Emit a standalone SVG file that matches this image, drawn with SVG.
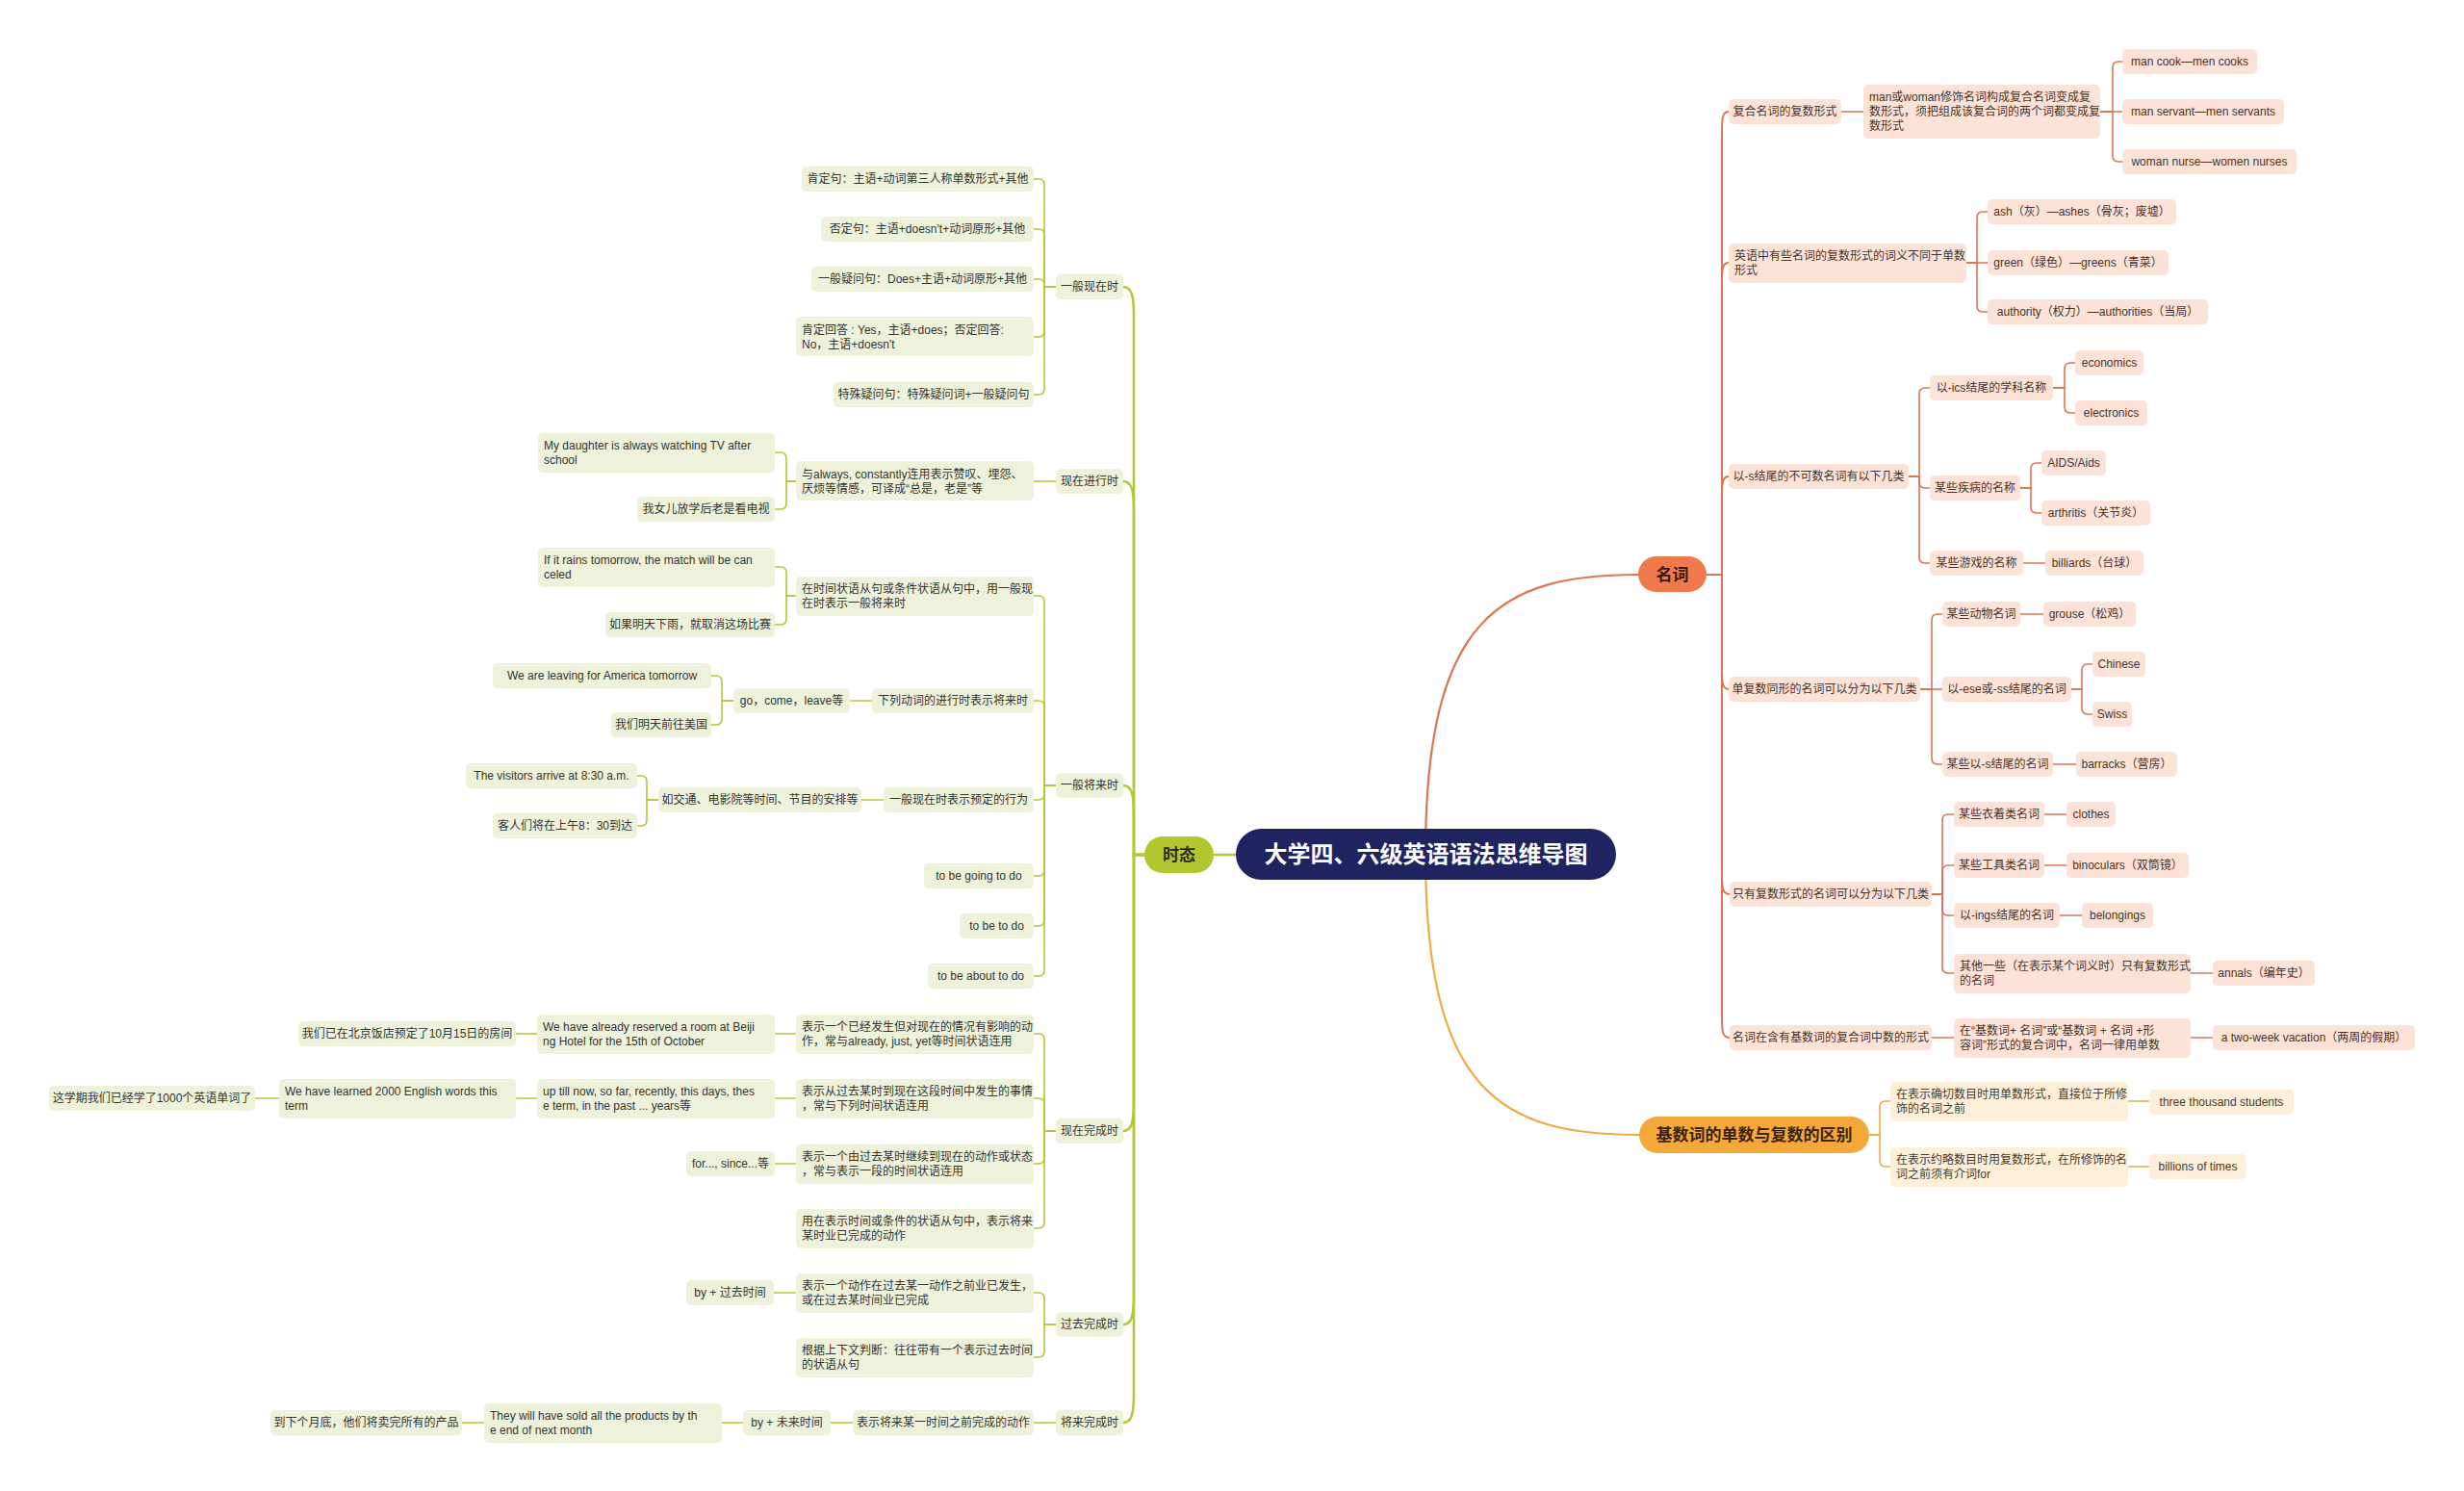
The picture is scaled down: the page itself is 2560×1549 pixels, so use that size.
<svg xmlns="http://www.w3.org/2000/svg" width="2560" height="1549" viewBox="0 0 2560 1549">
<style>
text{font-family:"Liberation Sans","Noto Sans CJK SC",sans-serif;font-size:12px;fill:#333}
.m{text-anchor:middle}
.g rect{fill:#eef2da}
.o rect{fill:#fde3d7}
.y rect{fill:#fdefd9}
.o text{fill:#4a3228}
.y text{fill:#4a3a28}
path{fill:none;stroke-linecap:round}
.cg path{stroke:#b4c63a;stroke-width:1.6}
.co path{stroke:#dc7552;stroke-width:1.6}
.cy path{stroke:#f0a848;stroke-width:1.6}
.big{font-size:17px;font-weight:bold;fill:#2a2a1a}
</style>
<rect width="2560" height="1549" fill="#ffffff"/>
<g id="connectors">
<g class="cg">
<path d="M1261 888 H1284" style="stroke-width:2.5"/>
<path d="M1189 888 H1178 V328 C1178 308 1176 298 1167 298" style="stroke-width:2.5"/>
<path d="M1189 888 H1178 V530 C1178 510 1176 500 1167 500" style="stroke-width:2.5"/>
<path d="M1189 888 H1178 V846 C1178 826 1176 816 1167 816" style="stroke-width:2.5"/>
<path d="M1189 888 H1178 V1145 C1178 1165 1176 1175 1167 1175" style="stroke-width:2.5"/>
<path d="M1189 888 H1178 V1346 C1178 1366 1176 1376 1167 1376" style="stroke-width:2.5"/>
<path d="M1189 888 H1178 V1448 C1178 1468 1176 1478 1167 1478" style="stroke-width:2.5"/>
<path d="M1097 298 H1085 V192 Q1085 186 1079 186 H1074"/>
<path d="M1097 298 H1085 V244 Q1085 238 1079 238 H1074"/>
<path d="M1097 298 H1085 V296 Q1085 290 1079 290 H1074"/>
<path d="M1097 298 H1085 V344 Q1085 350 1079 350 H1074"/>
<path d="M1097 298 H1085 V404 Q1085 410 1079 410 H1074"/>
<path d="M1097 500 H1074"/>
<path d="M827 500 H817 V476 Q817 470 811 470 H805"/>
<path d="M827 500 H817 V523 Q817 529 811 529 H805"/>
<path d="M1097 816 H1085 V625 Q1085 619 1079 619 H1074"/>
<path d="M1097 816 H1085 V734 Q1085 728 1079 728 H1074"/>
<path d="M1097 816 H1085 V825 Q1085 831 1079 831 H1074"/>
<path d="M1097 816 H1085 V904 Q1085 910 1079 910 H1074"/>
<path d="M1097 816 H1085 V956 Q1085 962 1079 962 H1074"/>
<path d="M1097 816 H1085 V1008 Q1085 1014 1079 1014 H1074"/>
<path d="M827 619 H817 V595 Q817 589 811 589 H805"/>
<path d="M827 619 H817 V643 Q817 649 811 649 H805"/>
<path d="M906 728 H883"/>
<path d="M762 728 H750 V708 Q750 702 744 702 H739"/>
<path d="M762 728 H750 V747 Q750 753 744 753 H739"/>
<path d="M918 831 H895"/>
<path d="M684 831 H672 V812 Q672 806 666 806 H662"/>
<path d="M684 831 H672 V852 Q672 858 666 858 H662"/>
<path d="M1097 1175 H1085 V1080 Q1085 1074 1079 1074 H1074"/>
<path d="M1097 1175 H1085 V1147 Q1085 1141 1079 1141 H1074"/>
<path d="M1097 1175 H1085 V1203 Q1085 1209 1079 1209 H1074"/>
<path d="M1097 1175 H1085 V1270 Q1085 1276 1079 1276 H1074"/>
<path d="M827 1074 H805"/>
<path d="M558 1074 H536"/>
<path d="M827 1141 H805"/>
<path d="M558 1141 H536"/>
<path d="M290 1141 H265"/>
<path d="M827 1209 H805"/>
<path d="M1097 1376 H1085 V1349 Q1085 1343 1079 1343 H1074"/>
<path d="M1097 1376 H1085 V1404 Q1085 1410 1079 1410 H1074"/>
<path d="M827 1343 H804"/>
<path d="M1097 1478 H1074"/>
<path d="M886 1478 H863"/>
<path d="M772 1478 H750"/>
<path d="M503 1478 H480"/>
</g>
<g class="co">
<path d="M1481 887 C1481 640 1560 597 1702 597" style="stroke-width:2.2"/>
<path d="M1773 597 H1789 V136 C1789 122 1790 116 1796 116" style="stroke-width:2"/>
<path d="M1773 597 H1789 V293 C1789 279 1790 273 1796 273" style="stroke-width:2"/>
<path d="M1773 597 H1789 V515 C1789 501 1790 495 1796 495" style="stroke-width:2"/>
<path d="M1773 597 H1789 V696 C1789 710 1790 716 1796 716" style="stroke-width:2"/>
<path d="M1773 597 H1789 V909 C1789 923 1790 929 1797 929" style="stroke-width:2"/>
<path d="M1773 597 H1789 V1058 C1789 1072 1790 1078 1797 1078" style="stroke-width:2"/>
<path d="M1913 116 H1936"/>
<path d="M2182 116 H2195 V70 Q2195 64 2201 64 H2205"/>
<path d="M2182 116 H2205"/>
<path d="M2182 116 H2195 V162 Q2195 168 2201 168 H2205"/>
<path d="M2043 273 H2054 V226 Q2054 220 2060 220 H2065"/>
<path d="M2043 273 H2065"/>
<path d="M2043 273 H2054 V318 Q2054 324 2060 324 H2065"/>
<path d="M1983 495 H1994 V409 Q1994 403 2000 403 H2005"/>
<path d="M1983 495 H1994 V501 Q1994 507 2000 507 H2005"/>
<path d="M1983 495 H1994 V579 Q1994 585 2000 585 H2005"/>
<path d="M2133 403 H2145 V383 Q2145 377 2151 377 H2156"/>
<path d="M2133 403 H2145 V423 Q2145 429 2151 429 H2156"/>
<path d="M2099 507 H2110 V487 Q2110 481 2116 481 H2121"/>
<path d="M2099 507 H2110 V527 Q2110 533 2116 533 H2121"/>
<path d="M2102 585 H2125"/>
<path d="M1995 716 H2007 V644 Q2007 638 2013 638 H2018"/>
<path d="M1995 716 H2018"/>
<path d="M1995 716 H2007 V788 Q2007 794 2013 794 H2018"/>
<path d="M2099 638 H2123"/>
<path d="M2152 716 H2163 V696 Q2163 690 2169 690 H2174"/>
<path d="M2152 716 H2163 V736 Q2163 742 2169 742 H2174"/>
<path d="M2133 794 H2157"/>
<path d="M2007 929 H2018 V852 Q2018 846 2024 846 H2030"/>
<path d="M2007 929 H2018 V905 Q2018 899 2024 899 H2030"/>
<path d="M2007 929 H2018 V945 Q2018 951 2024 951 H2030"/>
<path d="M2007 929 H2018 V1005 Q2018 1011 2024 1011 H2030"/>
<path d="M2124 846 H2147"/>
<path d="M2124 899 H2147"/>
<path d="M2140 951 H2163"/>
<path d="M2276 1011 H2299"/>
<path d="M2007 1078 H2030"/>
<path d="M2276 1078 H2299"/>
</g>
<g class="cy">
<path d="M1481 887 C1481 1135 1560 1179 1703 1179" style="stroke-width:2.2"/>
<path d="M1942 1179 H1953 V1150 Q1953 1144 1959 1144 H1964"/>
<path d="M1942 1179 H1953 V1206 Q1953 1212 1959 1212 H1964"/>
<path d="M2211 1144 H2233"/>
<path d="M2211 1212 H2233"/>
</g>
</g>

<g id="root"><rect x="1284" y="861" width="395" height="53" rx="26.5" fill="#1f2461"/><text x="1481.5" y="896" class="m" style="font-size:24px;font-weight:bold;fill:#ffffff">大学四、六级英语语法思维导图</text></g>

<g id="shitai"><rect x="1189" y="869" width="72" height="38" rx="19" fill="#b4c62e"/><text x="1225" y="894" class="m big">时态</text></g>
<g id="mingci"><rect x="1702" y="578" width="71" height="37" rx="18.5" fill="#f07a4c"/><text x="1737.5" y="603" class="m big" style="fill:#3a1a10">名词</text></g>
<g id="jishuci"><rect x="1703" y="1160" width="239" height="38" rx="19" fill="#f5a83a"/><text x="1822.5" y="1185" class="m big" style="fill:#3a2410">基数词的单数与复数的区别</text></g>

<g class="g">
<g id="g1"><rect x="1097" y="285" width="70" height="26" rx="5"/><text x="1132" y="302" class="m">一般现在时</text></g>
<g id="g2"><rect x="1097" y="487" width="70" height="26" rx="5"/><text x="1132" y="504" class="m">现在进行时</text></g>
<g id="g3"><rect x="1097" y="803" width="70" height="26" rx="5"/><text x="1132" y="820" class="m">一般将来时</text></g>
<g id="g4"><rect x="1097" y="1162" width="70" height="26" rx="5"/><text x="1132" y="1179" class="m">现在完成时</text></g>
<g id="g5"><rect x="1097" y="1363" width="70" height="26" rx="5"/><text x="1132" y="1380" class="m">过去完成时</text></g>
<g id="g6"><rect x="1097" y="1465" width="70" height="26" rx="5"/><text x="1132" y="1482" class="m">将来完成时</text></g>

<g id="g1a"><rect x="833" y="173" width="241" height="26" rx="5"/><text x="953.5" y="190" class="m">肯定句：主语+动词第三人称单数形式+其他</text></g>
<g id="g1b"><rect x="853" y="225" width="221" height="26" rx="5"/><text x="963.5" y="242" class="m">否定句：主语+doesn't+动词原形+其他</text></g>
<g id="g1c"><rect x="843" y="277" width="231" height="26" rx="5"/><text x="958.5" y="294" class="m">一般疑问句：Does+主语+动词原形+其他</text></g>
<g id="g1d"><rect x="827" y="329" width="247" height="41" rx="5"/><text x="833" y="346.5">肯定回答 : Yes，主语+does；否定回答:</text><text x="833" y="361.5">No，主语+doesn't</text></g>
<g id="g1e"><rect x="866" y="397" width="208" height="26" rx="5"/><text x="970" y="414" class="m">特殊疑问句：特殊疑问词+一般疑问句</text></g>

<g id="g2a"><rect x="827" y="479" width="247" height="41" rx="5"/><text x="833" y="496.5">与always, constantly连用表示赞叹、埋怨、</text><text x="833" y="511.5">厌烦等情感，可译成“总是，老是”等</text></g>
<g id="g2a1"><rect x="559" y="450" width="246" height="41" rx="5"/><text x="565" y="466.5">My daughter is always watching TV after</text><text x="565" y="481.5">school</text></g>
<g id="g2a2"><rect x="662" y="516" width="143" height="26" rx="5"/><text x="733.5" y="533" class="m">我女儿放学后老是看电视</text></g>

<g id="g3a"><rect x="827" y="599" width="247" height="41" rx="5"/><text x="833" y="615.5">在时间状语从句或条件状语从句中，用一般现</text><text x="833" y="630.5">在时表示一般将来时</text></g>
<g id="g3a1"><rect x="559" y="569" width="246" height="41" rx="5"/><text x="565" y="585.5">If it rains tomorrow, the match will be can</text><text x="565" y="600.5">celed</text></g>
<g id="g3a2"><rect x="629" y="636" width="176" height="26" rx="5"/><text x="717" y="653" class="m">如果明天下雨，就取消这场比赛</text></g>
<g id="g3b"><rect x="906" y="715" width="168" height="26" rx="5"/><text x="990" y="732" class="m">下列动词的进行时表示将来时</text></g>
<g id="g3b1"><rect x="762" y="715" width="121" height="26" rx="5"/><text x="822.5" y="732" class="m">go，come，leave等</text></g>
<g id="g3b1a"><rect x="512" y="689" width="227" height="26" rx="5"/><text x="625.5" y="706" class="m">We are leaving for America tomorrow</text></g>
<g id="g3b1b"><rect x="635" y="740" width="104" height="26" rx="5"/><text x="687" y="757" class="m">我们明天前往美国</text></g>
<g id="g3c"><rect x="918" y="818" width="156" height="26" rx="5"/><text x="996" y="835" class="m">一般现在时表示预定的行为</text></g>
<g id="g3c1"><rect x="684" y="818" width="211" height="26" rx="5"/><text x="789.5" y="835" class="m">如交通、电影院等时间、节目的安排等</text></g>
<g id="g3c1a"><rect x="484" y="793" width="178" height="26" rx="5"/><text x="573" y="810" class="m">The visitors arrive at 8:30 a.m.</text></g>
<g id="g3c1b"><rect x="512" y="845" width="150" height="26" rx="5"/><text x="587" y="862" class="m">客人们将在上午8：30到达</text></g>
<g id="g3d"><rect x="960" y="897" width="114" height="26" rx="5"/><text x="1017" y="914" class="m">to be going to do</text></g>
<g id="g3e"><rect x="997" y="949" width="77" height="26" rx="5"/><text x="1035.5" y="966" class="m">to be to do</text></g>
<g id="g3f"><rect x="964" y="1001" width="110" height="26" rx="5"/><text x="1019" y="1018" class="m">to be about to do</text></g>

<g id="g4a"><rect x="827" y="1054" width="247" height="41" rx="5"/><text x="833" y="1070.5">表示一个已经发生但对现在的情况有影响的动</text><text x="833" y="1085.5">作，常与already, just, yet等时间状语连用</text></g>
<g id="g4a1"><rect x="558" y="1054" width="247" height="41" rx="5"/><text x="564" y="1070.5">We have already reserved a room at Beiji</text><text x="564" y="1085.5">ng Hotel for the 15th of October</text></g>
<g id="g4a2"><rect x="310" y="1061" width="226" height="26" rx="5"/><text x="423" y="1078" class="m">我们已在北京饭店预定了10月15日的房间</text></g>
<g id="g4b"><rect x="827" y="1121" width="247" height="41" rx="5"/><text x="833" y="1137.5">表示从过去某时到现在这段时间中发生的事情</text><text x="833" y="1152.5">，常与下列时间状语连用</text></g>
<g id="g4b1"><rect x="558" y="1121" width="247" height="41" rx="5"/><text x="564" y="1137.5">up till now, so far, recently, this days, thes</text><text x="564" y="1152.5">e term, in the past ... years等</text></g>
<g id="g4b2"><rect x="290" y="1121" width="246" height="41" rx="5"/><text x="296" y="1137.5">We have learned 2000 English words this</text><text x="296" y="1152.5">term</text></g>
<g id="g4b3"><rect x="51" y="1128" width="214" height="26" rx="5"/><text x="158" y="1145" class="m">这学期我们已经学了1000个英语单词了</text></g>
<g id="g4c"><rect x="827" y="1189" width="247" height="41" rx="5"/><text x="833" y="1205.5">表示一个由过去某时继续到现在的动作或状态</text><text x="833" y="1220.5">，常与表示一段的时间状语连用</text></g>
<g id="g4c1"><rect x="713" y="1196" width="92" height="26" rx="5"/><text x="759" y="1213" class="m">for..., since...等</text></g>
<g id="g4d"><rect x="827" y="1256" width="247" height="41" rx="5"/><text x="833" y="1272.5">用在表示时间或条件的状语从句中，表示将来</text><text x="833" y="1287.5">某时业已完成的动作</text></g>

<g id="g5a"><rect x="827" y="1323" width="247" height="41" rx="5"/><text x="833" y="1339.5">表示一个动作在过去某一动作之前业已发生，</text><text x="833" y="1354.5">或在过去某时间业已完成</text></g>
<g id="g5a1"><rect x="713" y="1330" width="91" height="26" rx="5"/><text x="758.5" y="1347" class="m">by + 过去时间</text></g>
<g id="g5b"><rect x="827" y="1390" width="247" height="41" rx="5"/><text x="833" y="1406.5">根据上下文判断：往往带有一个表示过去时间</text><text x="833" y="1421.5">的状语从句</text></g>

<g id="g6a"><rect x="886" y="1465" width="188" height="26" rx="5"/><text x="980" y="1482" class="m">表示将来某一时间之前完成的动作</text></g>
<g id="g6a1"><rect x="772" y="1465" width="91" height="26" rx="5"/><text x="817.5" y="1482" class="m">by + 未来时间</text></g>
<g id="g6a2"><rect x="503" y="1458" width="247" height="41" rx="5"/><text x="509" y="1474.5">They will have sold all the products by th</text><text x="509" y="1489.5">e end of next month</text></g>
<g id="g6a3"><rect x="281" y="1465" width="199" height="26" rx="5"/><text x="380.5" y="1482" class="m">到下个月底，他们将卖完所有的产品</text></g>
</g>

<g class="o">
<g id="o1"><rect x="1796" y="103" width="117" height="26" rx="5"/><text x="1854.5" y="120" class="m">复合名词的复数形式</text></g>
<g id="o1a"><rect x="1936" y="88" width="246" height="56" rx="5"/><text x="1942" y="105">man或woman修饰名词构成复合名词变成复</text><text x="1942" y="120">数形式，须把组成该复合词的两个词都变成复</text><text x="1942" y="135">数形式</text></g>
<g id="o1a1"><rect x="2205" y="51" width="140" height="26" rx="5"/><text x="2275" y="68" class="m">man cook—men cooks</text></g>
<g id="o1a2"><rect x="2205" y="103" width="168" height="26" rx="5"/><text x="2289" y="120" class="m">man servant—men servants</text></g>
<g id="o1a3"><rect x="2205" y="155" width="181" height="26" rx="5"/><text x="2295.5" y="172" class="m">woman nurse—women nurses</text></g>

<g id="o2"><rect x="1796" y="253" width="247" height="41" rx="5"/><text x="1802" y="269.5">英语中有些名词的复数形式的词义不同于单数</text><text x="1802" y="284.5">形式</text></g>
<g id="o2a"><rect x="2065" y="207" width="196" height="26" rx="5"/><text x="2163" y="224" class="m">ash（灰）—ashes（骨灰；废墟）</text></g>
<g id="o2b"><rect x="2065" y="260" width="188" height="26" rx="5"/><text x="2159" y="277" class="m">green（绿色）—greens（青菜）</text></g>
<g id="o2c"><rect x="2065" y="311" width="229" height="26" rx="5"/><text x="2179.5" y="328" class="m">authority（权力）—authorities（当局）</text></g>

<g id="o3"><rect x="1796" y="482" width="187" height="26" rx="5"/><text x="1889.5" y="499" class="m">以-s结尾的不可数名词有以下几类</text></g>
<g id="o3a"><rect x="2005" y="390" width="128" height="26" rx="5"/><text x="2069" y="407" class="m">以-ics结尾的学科名称</text></g>
<g id="o3a1"><rect x="2156" y="364" width="71" height="26" rx="5"/><text x="2191.5" y="381" class="m">economics</text></g>
<g id="o3a2"><rect x="2156" y="416" width="75" height="26" rx="5"/><text x="2193.5" y="433" class="m">electronics</text></g>
<g id="o3b"><rect x="2005" y="494" width="94" height="26" rx="5"/><text x="2052" y="511" class="m">某些疾病的名称</text></g>
<g id="o3b1"><rect x="2121" y="468" width="67" height="26" rx="5"/><text x="2154.5" y="485" class="m">AIDS/Aids</text></g>
<g id="o3b2"><rect x="2121" y="520" width="113" height="26" rx="5"/><text x="2177.5" y="537" class="m">arthritis（关节炎）</text></g>
<g id="o3c"><rect x="2005" y="572" width="97" height="26" rx="5"/><text x="2053.5" y="589" class="m">某些游戏的名称</text></g>
<g id="o3c1"><rect x="2125" y="572" width="102" height="26" rx="5"/><text x="2176" y="589" class="m">billiards（台球）</text></g>

<g id="o4"><rect x="1796" y="703" width="199" height="26" rx="5"/><text x="1895.5" y="720" class="m">单复数同形的名词可以分为以下几类</text></g>
<g id="o4a"><rect x="2018" y="625" width="81" height="26" rx="5"/><text x="2058.5" y="642" class="m">某些动物名词</text></g>
<g id="o4a1"><rect x="2123" y="625" width="96" height="26" rx="5"/><text x="2171" y="642" class="m">grouse（松鸡）</text></g>
<g id="o4b"><rect x="2018" y="703" width="134" height="26" rx="5"/><text x="2085" y="720" class="m">以-ese或-ss结尾的名词</text></g>
<g id="o4b1"><rect x="2174" y="677" width="55" height="26" rx="5"/><text x="2201.5" y="694" class="m">Chinese</text></g>
<g id="o4b2"><rect x="2174" y="729" width="41" height="26" rx="5"/><text x="2194.5" y="746" class="m">Swiss</text></g>
<g id="o4c"><rect x="2018" y="781" width="115" height="26" rx="5"/><text x="2075.5" y="798" class="m">某些以-s结尾的名词</text></g>
<g id="o4c1"><rect x="2157" y="781" width="105" height="26" rx="5"/><text x="2209.5" y="798" class="m">barracks（营房）</text></g>

<g id="o5"><rect x="1797" y="916" width="210" height="26" rx="5"/><text x="1902" y="933" class="m">只有复数形式的名词可以分为以下几类</text></g>
<g id="o5a"><rect x="2030" y="833" width="94" height="26" rx="5"/><text x="2077" y="850" class="m">某些衣着类名词</text></g>
<g id="o5a1"><rect x="2147" y="833" width="51" height="26" rx="5"/><text x="2172.5" y="850" class="m">clothes</text></g>
<g id="o5b"><rect x="2030" y="886" width="94" height="26" rx="5"/><text x="2077" y="903" class="m">某些工具类名词</text></g>
<g id="o5b1"><rect x="2147" y="886" width="127" height="26" rx="5"/><text x="2210.5" y="903" class="m">binoculars（双筒镜）</text></g>
<g id="o5c"><rect x="2030" y="938" width="110" height="26" rx="5"/><text x="2085" y="955" class="m">以-ings结尾的名词</text></g>
<g id="o5c1"><rect x="2163" y="938" width="74" height="26" rx="5"/><text x="2200" y="955" class="m">belongings</text></g>
<g id="o5d"><rect x="2030" y="991" width="246" height="41" rx="5"/><text x="2036" y="1007.5">其他一些（在表示某个词义时）只有复数形式</text><text x="2036" y="1022.5">的名词</text></g>
<g id="o5d1"><rect x="2299" y="998" width="106" height="26" rx="5"/><text x="2352" y="1015" class="m">annals（编年史）</text></g>

<g id="o6"><rect x="1797" y="1065" width="210" height="26" rx="5"/><text x="1902" y="1082" class="m">名词在含有基数词的复合词中数的形式</text></g>
<g id="o6a"><rect x="2030" y="1058" width="246" height="41" rx="5"/><text x="2036" y="1074.5">在“基数词+ 名词”或“基数词 + 名词 +形</text><text x="2036" y="1089.5">容词”形式的复合词中，名词一律用单数</text></g>
<g id="o6a1"><rect x="2299" y="1065" width="210" height="26" rx="5"/><text x="2404" y="1082" class="m">a two-week vacation（两周的假期）</text></g>
</g>

<g class="y">
<g id="y1"><rect x="1964" y="1124" width="247" height="41" rx="5"/><text x="1970" y="1140.5">在表示确切数目时用单数形式，直接位于所修</text><text x="1970" y="1155.5">饰的名词之前</text></g>
<g id="y1a"><rect x="2233" y="1132" width="150" height="26" rx="5"/><text x="2308" y="1149" class="m">three thousand students</text></g>
<g id="y2"><rect x="1964" y="1192" width="247" height="41" rx="5"/><text x="1970" y="1208.5">在表示约略数目时用复数形式，在所修饰的名</text><text x="1970" y="1223.5">词之前须有介词for</text></g>
<g id="y2a"><rect x="2233" y="1199" width="101" height="26" rx="5"/><text x="2283.5" y="1216" class="m">billions of times</text></g>
</g>
</svg>
